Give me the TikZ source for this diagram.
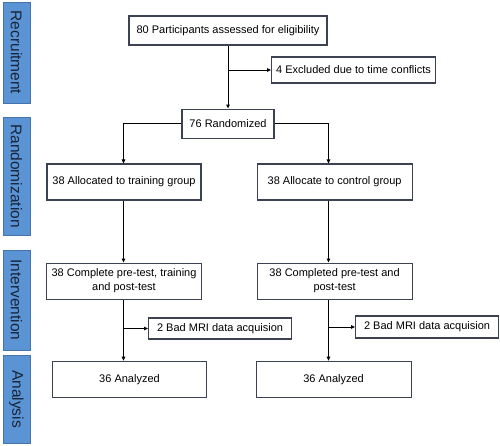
\documentclass[tikz,border=0pt]{standalone}
\usepackage{fontspec}
\setmainfont{Liberation Sans}
\usetikzlibrary{arrows.meta, positioning}
\definecolor{phaseblue}{RGB}{91, 148, 212}
\definecolor{phaseedge}{RGB}{70, 115, 170}
\definecolor{phasetext}{RGB}{25, 35, 55}
\definecolor{boxedge}{RGB}{60, 66, 82}

\begin{document}
\begin{tikzpicture}[
  x=1pt, y=-1pt,
  box/.style={rectangle, draw=boxedge, line width=1.1pt, fill=white,
              minimum width=155pt, minimum height=36pt, inner sep=2pt,
              font=\fontsize{11}{14}\selectfont},
  side/.style={rectangle, draw=phaseedge, line width=0.6pt, fill=phaseblue,
               minimum width=27pt, rotate=-90, text=phasetext,
               font=\fontsize{15.5}{18}\selectfont},
  arr/.style={-{Triangle[length=4pt, width=3.6pt]}, line width=1pt, black}
]
\useasboundingbox (0,0) rectangle (500,445);

% phase labels on the left
\node[side, minimum width=101pt, minimum height=27pt] (recr) at (16.5,52.5) {Recruitment};
\node[side, minimum width=118pt, minimum height=27pt] (rnd)  at (16.5,176)  {Randomization};
\node[side, minimum width=100pt, minimum height=27pt] (intv) at (16.5,300)  {Intervention};
\node[side, minimum width=88pt,  minimum height=27pt] (anls) at (16.5,399)  {Analysis};

% flow boxes
\node[box, minimum width=198pt, minimum height=29pt] (elig) at (228,30.5)
  {80 Participants assessed for eligibility};
\node[box, minimum width=164pt, minimum height=26pt, anchor=west] (excl) at (271,70)
  {4 Excluded due to time conflicts};
\node[box, minimum width=92pt, minimum height=29pt, below=63pt of elig] (rand)
  {76 Randomized};

\node[box, minimum width=154pt] (alloct) at (124,182) {38 Allocated to training group};
\node[box, right=55pt of alloct] (allocc) {38 Allocate to control group};

\node[box, below=62pt of alloct] (compt)
  {\begin{tabular}{@{}c@{}}38 Complete pre-test, training\\and post-test\end{tabular}};
\node[box, below=62pt of allocc] (compc)
  {\begin{tabular}{@{}c@{}}38 Completed pre-test and\\post-test\end{tabular}};

\node[box, minimum width=143pt, minimum height=21pt, anchor=west] (badt) at (148,328.5)
  {2 Bad MRI data acquision};
\node[box, minimum width=143pt, minimum height=22pt, anchor=west] (badc) at (355,327)
  {2 Bad MRI data acquision};

\node[box, minimum width=154pt, below=61pt of compt, xshift=5.5pt] (anat) {36 Analyzed};
\node[box, below=61pt of compc, xshift=-1pt] (anac) {36 Analyzed};

% column lines
\coordinate (colL) at (123.5,0);
\coordinate (colR) at (328.5,0);

% connectors
\draw[arr] (elig) -- (rand);
\draw[arr] (elig.south |- excl.west) -- (excl.west);
\draw[arr] (rand.west) -| (alloct.north -| colL);
\draw[arr] (rand.east) -| (allocc.north -| colR);
\draw[arr] (alloct.south -| colL) -- (compt.north -| colL);
\draw[arr] (allocc.south -| colR) -- (compc.north -| colR);
\draw[arr] (compt.south -| colL) -- (anat.north -| colL);
\draw[arr] (compc.south -| colR) -- (anac.north -| colR);
\draw[arr] (colL |- badt.west) -- (badt.west);
\draw[arr] (colR |- badc.west) -- (badc.west);
\end{tikzpicture}
\end{document}
